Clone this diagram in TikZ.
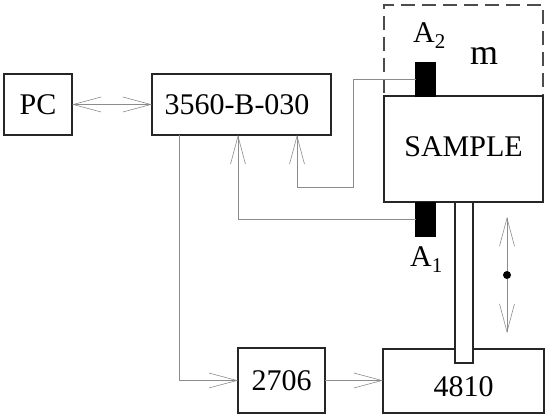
\documentclass[tikz,border=0pt]{standalone}
\usepackage{fontspec}
\setmainfont{Liberation Serif}
\usetikzlibrary{arrows.meta,positioning,calc}

\begin{document}
\begin{tikzpicture}[x=1pt, y=-1pt, >={Straight Barb[length=28pt,width=15pt]}]
    \tikzset{
        block/.style={draw=black!85, fill=white, rectangle, line width=1.5pt, inner sep=0pt, outer sep=0pt, align=center, font=\fontsize{30}{34}\selectfont},
        mass/.style={draw=black!70, rectangle, line width=1.3pt, dash pattern=on 14pt off 7pt, inner sep=0pt, outer sep=0pt},
        sensor/.style={draw=black, fill=black, rectangle, inner sep=0pt, outer sep=0pt, minimum width=20pt, minimum height=34pt},
        rod/.style={draw=black!85, fill=white, rectangle, line width=1.5pt, inner sep=0pt, outer sep=0pt, minimum width=18pt, minimum height=161pt},
        label/.style={inner sep=0pt, anchor=base west, font=\fontsize{30}{34}\selectfont},
        line/.style={draw=black!45, line width=0.6pt, ->}
    }
    \useasboundingbox (0,0) rectangle (550,419);
    \node [block, minimum width=68pt, minimum height=61pt] (pc) at (38,104.5) {PC};
    \node [block, minimum width=179pt, minimum height=61pt, right=80pt of pc] (analyzer) {3560-B-030\hspace*{9pt}};
    \node [mass, minimum width=159pt, minimum height=91pt] (load) at (463.5,50.5) {};
    \node [block, minimum width=159pt, minimum height=106pt, text height=20pt, text depth=4pt, below=0pt of load] (sample) {SAMPLE};
    \node [block, minimum width=161pt, minimum height=64pt, text height=32pt, text depth=0pt] (shaker) at (463.5,381) {4810};
    \node [block, minimum width=87pt, minimum height=65pt] (amp) at (281.5,380.5) {2706};
    \node [rod, below=0pt of sample, xshift=0.5pt] (stem) {};
    \node [sensor, above=0pt of sample.north west, anchor=south, xshift=41.5pt] (a2) {};
    \node [sensor, below=0pt of sample.south west, anchor=north, xshift=41.5pt] (a1) {};
    \node [label] (a2text) at (413,43) {A\textsubscript{2}};
    \node [label] (a1text) at (410,267) {A\textsubscript{1}};
    \node [label, font=\fontsize{36}{40}\selectfont] (m) at (470,65) {m};

    \coordinate (inone) at (238,135);
    \coordinate (intwo) at (297,135);
    \coordinate (bendtwo) at (353,187);
    \coordinate (outamp) at (179,135);
    \coordinate (moveup) at (507,217);
    \coordinate (movedown) at (507,333);
    \node [circle, fill=black, inner sep=0pt, minimum size=8pt] (pivot) at (507,275) {};

    \path [line, <->] (pc) -- (analyzer);
    \path [line] (a1.west |- 0,219) -| (inone);
    \path [line] (a2.west |- 0,79) -| (bendtwo) -| (intwo);
    \path [line] (outamp) |- (amp.west);
    \path [line] (amp) -- (shaker.west |- amp);
    \path [line] (pivot) -- (moveup);
    \path [line] (pivot) -- (movedown);
\end{tikzpicture}
\end{document}
